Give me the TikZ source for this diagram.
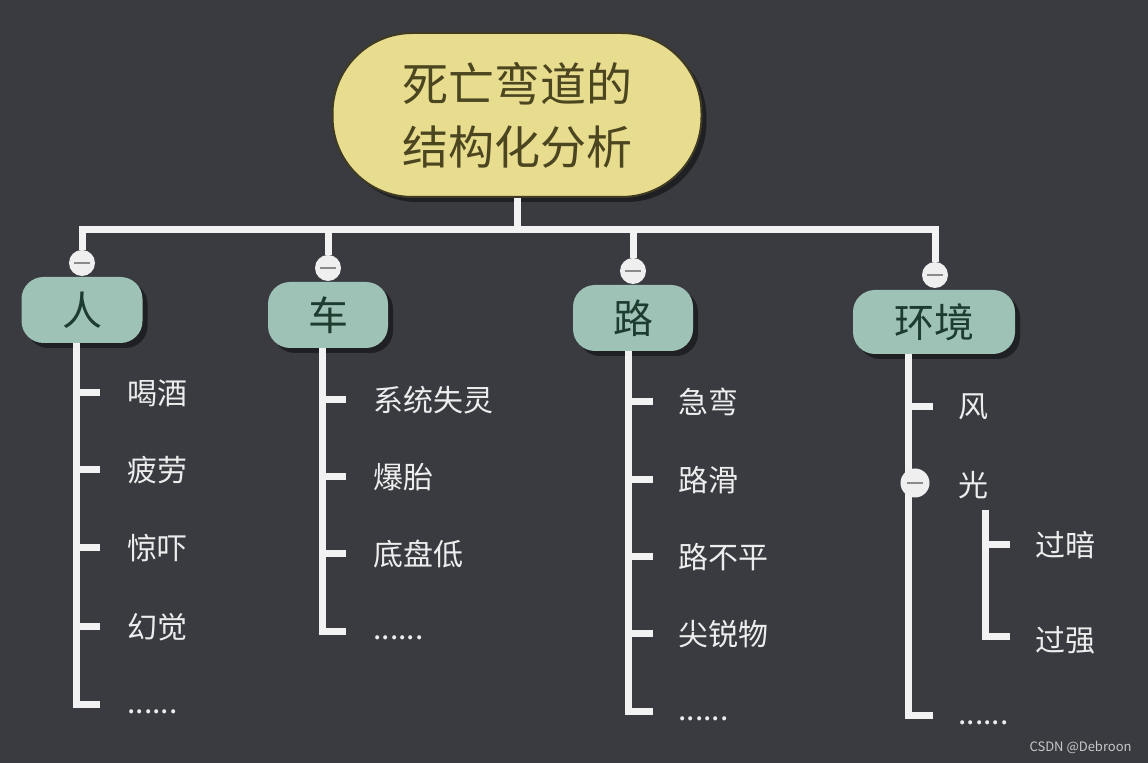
\documentclass[tikz,border=0pt]{standalone}
\usepackage{fontspec}
\setmainfont{Noto Sans CJK SC}
\usetikzlibrary{shadows}
\definecolor{bgc}{HTML}{393B40}
\definecolor{rootfill}{HTML}{E8DC8F}
\definecolor{rootedge}{HTML}{3E3A24}
\definecolor{roottext}{HTML}{4B4520}
\definecolor{catfill}{HTML}{9EC2B6}
\definecolor{cattext}{HTML}{1E3B30}
\definecolor{leaftext}{HTML}{EDEDED}
\definecolor{linec}{HTML}{F2F2F2}
\definecolor{minusfill}{HTML}{EFEFEF}
\definecolor{minusline}{HTML}{8A8A8A}
\definecolor{marktext}{HTML}{C8C8C8}
\begin{document}
\begin{tikzpicture}[x=0.5pt,y=-0.5pt,
 conn/.style={draw=linec, line width=3.5pt},
 boxshadow/.style={general shadow={fill=black, opacity=0.45, shadow xshift=2.5pt, shadow yshift=-2.5pt}},
 rootbox/.style={boxshadow, fill=rootfill, draw=rootedge, line width=1pt, text=roottext, rounded corners=40pt, minimum width=184.5pt, minimum height=82pt, align=center, font=\fontsize{23pt}{31.5pt}\selectfont},
 catbox/.style={boxshadow, fill=catfill, text=cattext, rounded corners=11pt, minimum height=33pt, inner sep=0pt, font=\fontsize{20pt}{24pt}\selectfont},
 leaf/.style={text=leaftext, anchor=west, inner sep=0pt, font=\fontsize{15pt}{18pt}\selectfont},
 minus/.style={circle, fill=minusfill, minimum size=13pt, inner sep=0pt, path picture={\draw[minusline, line width=0.9pt] ([xshift=-4pt]path picture bounding box.center) -- ([xshift=4pt]path picture bounding box.center);}},
]
\fill[bgc] (0,0) rectangle (1148,763);
\useasboundingbox (0,0) rectangle (1148,763);

% root and categories
\node[rootbox] (root) at (517,115) {死亡弯道的\\结构化分析};
\node[catbox, minimum width=60.5pt] (ren) at (82,310) {人};
\node[catbox, minimum width=60pt] (che) at (328,315) {车};
\node[catbox, minimum width=60pt] (lu) at (633,318) {路};
\node[catbox, minimum width=81pt, minimum height=32pt] (hj) at (934,322) {环境};

\node[minus] (m1) at (82,263) {};
\node[minus] (m2) at (328,268) {};
\node[minus] (m3) at (633,271) {};
\node[minus] (m4) at (935,275) {};

\coordinate (J) at (517,230);
\draw[conn] (root.south) -- (J);
\draw[conn] (m1) |- (J) -| (m4);
\draw[conn] (m2) -- (m2 |- J);
\draw[conn] (m3) -- (m3 |- J);

% 人
\coordinate (c1) at (76,705);
\coordinate (e1) at (100,705);
\draw[conn] (ren.south -| c1) -- (c1) -- (e1);
\node[leaf] (r1) at (127,393) {喝酒};
\node[leaf] (r2) at (127,470) {疲劳};
\node[leaf] (r3) at (127,548) {惊吓};
\node[leaf] (r4) at (127,627) {幻觉};
\node[leaf] (r5) at (127,712) {......};
\foreach \n in {r1,r2,r3,r4} \draw[conn] (\n.west -| c1) -- ++(24,0);

% 车
\coordinate (c2) at (322,632);
\coordinate (e2) at (346,632);
\draw[conn] (che.south -| c2) -- (c2) -- (e2);
\node[leaf] (v1) at (373,400) {系统失灵};
\node[leaf] (v2) at (373,477) {爆胎};
\node[leaf] (v3) at (373,554) {底盘低};
\node[leaf] (v4) at (373,638) {......};
\foreach \n in {v1,v2,v3} \draw[conn] (\n.west -| c2) -- ++(24,0);

% 路
\coordinate (c3) at (628,712);
\coordinate (e3) at (653,712);
\draw[conn] (lu.south -| c3) -- (c3) -- (e3);
\node[leaf] (u1) at (678,402) {急弯};
\node[leaf] (u2) at (678,480) {路滑};
\node[leaf] (u3) at (678,557) {路不平};
\node[leaf] (u4) at (678,634) {尖锐物};
\node[leaf] (u5) at (678,719) {......};
\foreach \n in {u1,u2,u3,u4} \draw[conn] (\n.west -| c3) -- ++(25,0);

% 环境
\coordinate (c4) at (908,716);
\coordinate (e4) at (933,716);
\draw[conn] (hj.south -| c4) -- (c4) -- (e4);
\node[leaf] (h1) at (958,407) {风};
\node[leaf] (h2) at (958,485) {光};
\node[leaf] (h3) at (958,723) {......};
\draw[conn] (h1.west -| c4) -- ++(25,0);
\node[minus, minimum size=14.5pt] (mg) at (915,483) {};

\coordinate (s0) at (985,510);
\coordinate (s1) at (985,637);
\coordinate (s2) at (1010,637);
\draw[conn] (s0) -- (s1) -- (s2);
\node[leaf] (g1) at (1035,545) {过暗};
\node[leaf] (g2) at (1035,640) {过强};
\draw[conn] (g1.west -| s0) -- ++(25,0);

\node[anchor=east, text=marktext, inner sep=0pt, font=\fontsize{6.5pt}{8pt}\selectfont] (wm) at (1132,747) {CSDN @Debroon};
\end{tikzpicture}
\end{document}
